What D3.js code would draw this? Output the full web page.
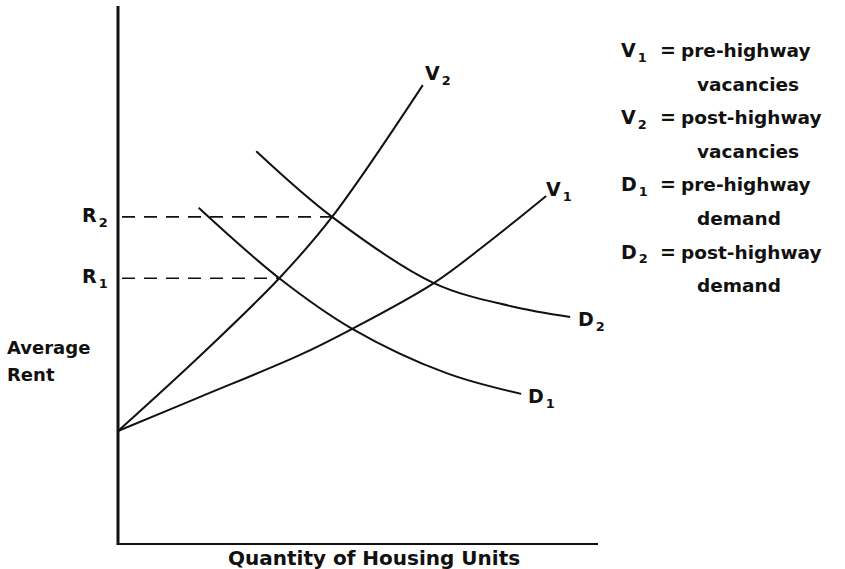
<!DOCTYPE html>
<html>
<head>
<meta charset="utf-8">
<script src="https://cdnjs.cloudflare.com/ajax/libs/d3/7.8.5/d3.min.js"></script>
<style>
    body { margin: 0; background: #ffffff; }
    text { font-family: "DejaVu Sans", Verdana, sans-serif; font-weight: 700; fill: #111111; }
</style>
</head>
<body>
<div id="chart"></div>
<script>
// curve points (quantity, rent) in chart units, 0-100 on both axes
var v1Qty = [0, 17.0, 37.8, 48.8, 65.8, 77.2, 89.2];
var v1Rent = [21.0, 27.3, 35.1, 40.0, 48.5, 56.1, 64.7];

var v2Qty = [0, 17.0, 33.6, 44.6, 63.5];
var v2Rent = [21.0, 34.9, 49.4, 60.8, 85.3];

var d1Qty = [16.8, 33.6, 48.8, 68.3, 84.0];
var d1Rent = [62.5, 49.4, 40.0, 31.8, 27.9];

var d2Qty = [28.8, 44.6, 65.8, 81.9, 94.2];
var d2Rent = [73.0, 60.8, 48.5, 44.2, 42.2];

// equilibrium rents and the quantity where each dashed line stops
var rentLabels = ["R1", "R2"];
var rentLevels = [49.4, 60.8];
var rentQty = [33.6, 44.6];

var legendKeys = ["V1", "V2", "D1", "D2"];
var legendText = [
    ["pre-highway", "vacancies"],
    ["post-highway", "vacancies"],
    ["pre-highway", "demand"],
    ["post-highway", "demand"]
];

var svg = d3.select("#chart")
    .append("svg")
    .attr("width", 845)
    .attr("height", 569);

var x = d3.scaleLinear().domain([0, 100]).range([118, 598]);
var y = d3.scaleLinear().domain([0, 100]).range([544, 6]);

function zipPoints(qs, rs) {
    return qs.map(function (q, i) { return [q, rs[i]]; });
}

var curves = [
    {name: "V1", pts: zipPoints(v1Qty, v1Rent), lbl: [546, 196]},
    {name: "V2", pts: zipPoints(v2Qty, v2Rent), lbl: [425, 80]},
    {name: "D1", pts: zipPoints(d1Qty, d1Rent), lbl: [528, 403]},
    {name: "D2", pts: zipPoints(d2Qty, d2Rent), lbl: [578, 326]}
];

var line = d3.line()
    .x(function (d) { return x(d[0]); })
    .y(function (d) { return y(d[1]); })
    .curve(d3.curveCatmullRom.alpha(0.5));

// axes, drawn as plain lines like the original sketch
svg.append("line")
    .attr("x1", x(0)).attr("x2", x(0))
    .attr("y1", y(100)).attr("y2", y(0) + 1)
    .attr("stroke", "#111").attr("stroke-width", 3);

svg.append("line")
    .attr("x1", x(0) - 1).attr("x2", x(100))
    .attr("y1", y(0)).attr("y2", y(0))
    .attr("stroke", "#111").attr("stroke-width", 2);

// dashed rent guides
svg.selectAll(".guide")
    .data(rentLevels)
    .enter()
    .append("line")
    .attr("class", "guide")
    .attr("x1", x(0) + 4)
    .attr("x2", function (d, i) { return x(rentQty[i]); })
    .attr("y1", function (d) { return y(d); })
    .attr("y2", function (d) { return y(d); })
    .attr("stroke", "#111")
    .attr("stroke-width", 1.6)
    .attr("stroke-dasharray", "13,9");

svg.selectAll(".curve")
    .data(curves)
    .enter()
    .append("path")
    .attr("class", "curve")
    .attr("d", function (d) { return line(d.pts); })
    .attr("fill", "none")
    .attr("stroke", "#111")
    .attr("stroke-width", 2);

function subLabel(g, main, sub, size) {
    g.append("tspan").text(main);
    g.append("tspan")
        .attr("font-size", size * 0.68 + "px")
        .attr("dy", size * 0.25)
        .attr("dx", 2)
        .text(sub);
}

// curve end labels
curves.forEach(function (c) {
    var t = svg.append("text")
        .attr("x", c.lbl[0])
        .attr("y", c.lbl[1])
        .attr("font-size", "19px");
    subLabel(t, c.name[0], c.name[1], 19);
});

// R1 / R2 on the rent axis
rentLevels.forEach(function (r, i) {
    var t = svg.append("text")
        .attr("x", 82)
        .attr("y", y(r) + 5)
        .attr("font-size", "19px");
    subLabel(t, rentLabels[i][0], rentLabels[i][1], 19);
});

// axis titles
svg.append("text")
    .attr("x", 7).attr("y", 354)
    .attr("font-size", "18px")
    .text("Average");
svg.append("text")
    .attr("x", 7).attr("y", 381)
    .attr("font-size", "18px")
    .text("Rent");

svg.append("text")
    .attr("x", 228).attr("y", 565)
    .attr("font-size", "20px")
    .text("Quantity of Housing Units");

// key on the right
var legend = svg.append("g").attr("id", "legend");
var pitch = 33.6;

legendKeys.forEach(function (k, i) {
    var yy = 57 + i * 2 * pitch;
    var t = legend.append("text")
        .attr("x", 621).attr("y", yy)
        .attr("font-size", "19px");
    subLabel(t, k[0], k[1], 19);
    legend.append("text")
        .attr("x", 660).attr("y", yy)
        .attr("font-size", "19px")
        .text("=");
    legend.append("text")
        .attr("x", 681).attr("y", yy)
        .attr("font-size", "18.5px")
        .text(legendText[i][0]);
    legend.append("text")
        .attr("x", 697).attr("y", yy + pitch)
        .attr("font-size", "18.5px")
        .text(legendText[i][1]);
});
</script>
</body>
</html>
